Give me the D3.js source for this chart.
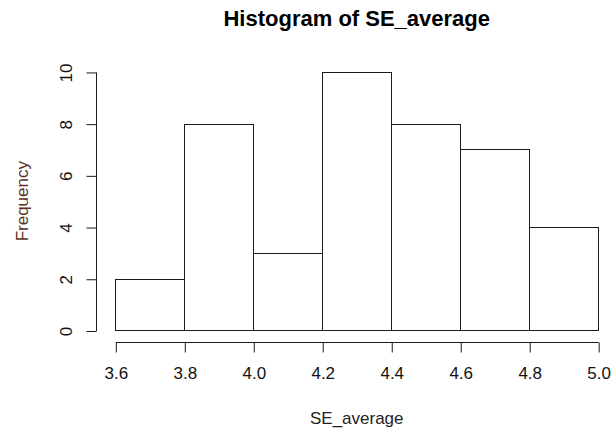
<!DOCTYPE html>
<html>
<head>
<meta charset="utf-8">
<script src="https://cdn.jsdelivr.net/npm/d3@7"></script>
<style>
  html, body { margin: 0; padding: 0; background: #fff; }
  svg { display: block; font-family: "Liberation Sans", Arial, sans-serif; }
</style>
</head>
<body>
<svg id="chart" width="611" height="432"></svg>
<script>
// Data
const binEdges = [3.6, 3.8, 4.0, 4.2, 4.4, 4.6, 4.8, 5.0];
const counts = [2, 8, 3, 10, 8, 7, 4];
const xTicks = [3.6, 3.8, 4.0, 4.2, 4.4, 4.6, 4.8, 5.0];
const yTicks = [0, 2, 4, 6, 8, 10];
const title = "Histogram of SE_average";
const xLabel = "SE_average";
const yLabel = "Frequency";

const bins = counts.map((c, i) => ({ x0: binEdges[i], x1: binEdges[i + 1], count: c }));

const svg = d3.select("#chart");

// Scales (R-style 4% extension of the data range)
const x = d3.scaleLinear().domain([3.544, 5.056]).range([96, 617.5]);
const y = d3.scaleLinear().domain([-0.4, 10.4]).range([340.8, 61.6]);

const ink = "#1a1a1a";

// Bars
svg.append("g")
  .selectAll("rect")
  .data(bins)
  .join("rect")
  .attr("x", d => Math.round(x(d.x0)) + 0.5)
  .attr("y", d => Math.round(y(d.count)) + 0.5)
  .attr("width", d => Math.round(x(d.x1)) - Math.round(x(d.x0)))
  .attr("height", d => Math.round(y(0)) - Math.round(y(d.count)))
  .attr("fill", "#fff")
  .attr("stroke", ink)
  .attr("stroke-width", 1);

// X axis (R style: line from first to last tick, offset below)
const xAxisY = 342;
const xAxis = d3.axisBottom(x)
  .tickValues(xTicks)
  .tickFormat(d3.format(".1f"))
  .tickSize(10)
  .tickPadding(14)
  .tickSizeOuter(0);
const gx = svg.append("g")
  .attr("transform", `translate(0.5,${xAxisY + 0.5})`)
  .call(xAxis);
gx.select(".domain").remove();
gx.append("line")
  .attr("x1", x(xTicks[0])).attr("x2", x(xTicks[xTicks.length - 1]))
  .attr("y1", 0).attr("y2", 0)
  .attr("stroke", ink);
gx.selectAll(".tick line").attr("stroke", ink);
gx.selectAll(".tick text")
  .attr("fill", "#111")
  .style("font-size", "17px")
  .style("font-family", "Liberation Sans, Arial, sans-serif");

// Y axis
const yAxisX = 96;
const yAxis = d3.axisLeft(y)
  .tickValues(yTicks)
  .tickSize(10)
  .tickSizeOuter(0)
  .tickFormat(d3.format("d"));
const gy = svg.append("g")
  .attr("transform", `translate(${yAxisX + 0.5},0.5)`)
  .call(yAxis);
gy.select(".domain").remove();
gy.append("line")
  .attr("x1", 0).attr("x2", 0)
  .attr("y1", y(yTicks[0])).attr("y2", y(yTicks[yTicks.length - 1]))
  .attr("stroke", ink);
gy.selectAll(".tick line").attr("stroke", ink);
gy.selectAll(".tick text")
  .attr("fill", "#111")
  .attr("x", null).attr("dy", null)
  .attr("text-anchor", "middle")
  .attr("transform", "translate(-25,0) rotate(-90)")
  .attr("y", 0)
  .style("font-size", "17px")
  .style("font-family", "Liberation Sans, Arial, sans-serif");

// Title
const cx = (x.range()[0] + x.range()[1]) / 2;
svg.append("text")
  .attr("x", cx).attr("y", 26)
  .attr("text-anchor", "middle")
  .attr("font-weight", "bold")
  .attr("font-size", "22px")
  .attr("fill", "#000")
  .text(title);

// X label
svg.append("text")
  .attr("x", cx).attr("y", 424)
  .attr("text-anchor", "middle")
  .attr("font-size", "17px")
  .attr("fill", "#222")
  .text(xLabel);

// Y label
svg.append("text")
  .attr("transform", `translate(28,${(y.range()[0] + y.range()[1]) / 2}) rotate(-90)`)
  .attr("text-anchor", "middle")
  .attr("font-size", "17px")
  .attr("fill", "#5c2f24")
  .text(yLabel);
</script>
</body>
</html>
